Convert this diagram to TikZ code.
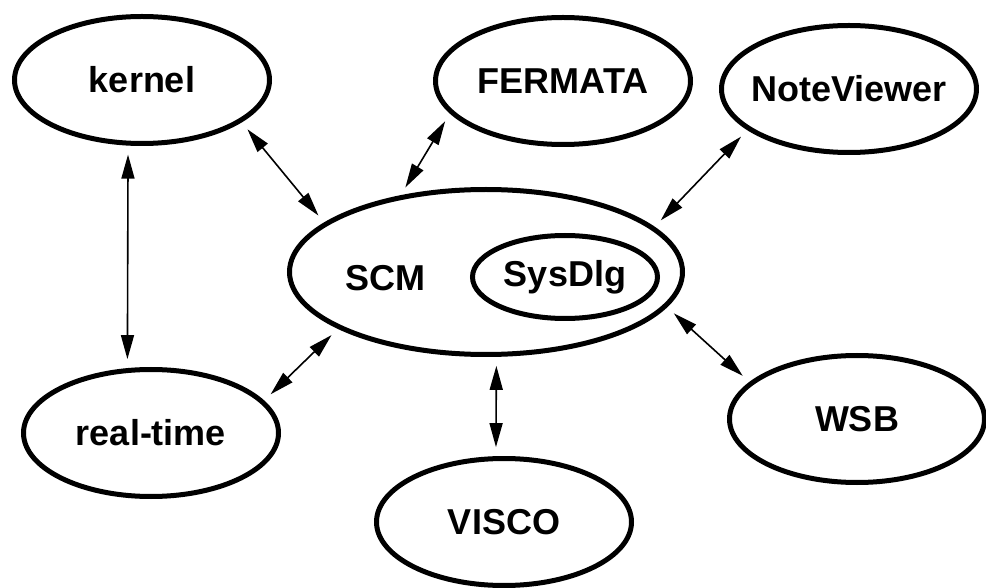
\documentclass[tikz,border=0pt]{standalone}
\usepackage{fontspec}
\setmainfont{Liberation Sans}
\usetikzlibrary{shapes.geometric,arrows.meta}
\begin{document}
\begin{tikzpicture}[x=0.5pt,y=-0.5pt,
  comp/.style={ellipse,draw,line width=2.5pt,minimum width=127.5pt,minimum height=63.5pt,inner sep=0pt,font=\fontsize{18}{22}\selectfont\bfseries},
  link/.style={{Triangle[length=12pt,width=6.5pt]}-{Triangle[length=12pt,width=6.5pt]},line width=0.8pt,shorten <=4.5pt,shorten >=4.5pt}]
\useasboundingbox (0,0) rectangle (986,588);
\node[comp] (kernel) at (142,80) {kernel};
\node[comp] (fermata) at (563,81) {FERMATA};
\node[comp,inner xsep=-5pt] (noteviewer) at (849,89) {NoteViewer};
\node[comp] (realtime) at (151,433) {real-time};
\node[comp] (wsb) at (857,419) {WSB};
\node[comp] (visco) at (504,522) {VISCO};
\node[comp,minimum width=196.5pt,minimum height=82.5pt] (scm) at (486,272) {};
\node[font=\fontsize{18}{22}\selectfont\bfseries] (scmtext) at (385,278) {SCM};
\node[comp,minimum width=92.5pt,minimum height=41.5pt] (sysdlg) at (565,277) {SysDlg};
\draw[link] (kernel.-102.7) -- (realtime.110);
\draw[link] (kernel.-23.2) -- (scm.163.4);
\draw[link] (fermata.-164.9) -- (scm.138.4);
\draw[link] (noteviewer.-158) -- (scm.15.2);
\draw[link] (scm.-159.2) -- (realtime.16.6);
\draw[link] (scm.-83.1) -- (visco.97.2);
\draw[link] (scm.-11.6) -- (wsb.161.5);
\end{tikzpicture}
\end{document}
